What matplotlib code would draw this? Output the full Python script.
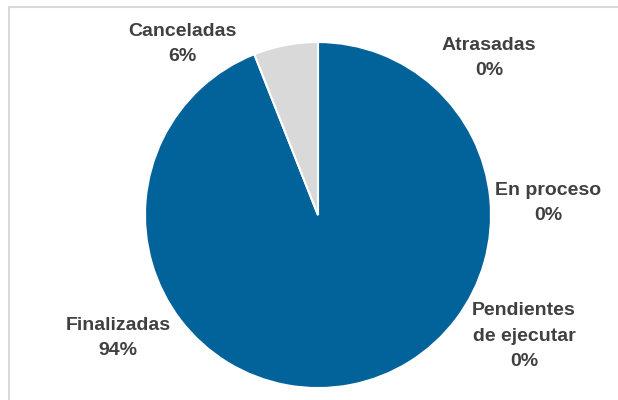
import matplotlib

matplotlib.use("Agg")
import matplotlib.pyplot as plt
from matplotlib.patches import Rectangle

# Data, clockwise from 12 o'clock
categories = ["Atrasadas", "En proceso", "Pendientes\nde ejecutar", "Finalizadas", "Canceladas"]
values = [0, 0, 0, 94, 6]
colors = ["#02639B", "#02639B", "#02639B", "#02639B", "#D9D9D9"]

# Manual label spots (data units, pie radius = 1), like the hand-placed Excel labels
label_pos = {
    "Atrasadas": (0.988, 0.908),
    "En proceso": (1.329, 0.069),
    "Pendientes\nde ejecutar": (1.191, -0.70),
    "Finalizadas": (-1.156, -0.711),
    "Canceladas": (-0.786, 0.988),
}

plt.rcParams["font.family"] = ["Liberation Sans Narrow", "Liberation Sans", "DejaVu Sans"]

fig = plt.figure(figsize=(6.18, 4.0), dpi=100)
ax = fig.add_axes([0, 0, 1, 1])

ax.pie(
    values,
    colors=colors,
    startangle=90,
    counterclock=False,
    radius=1.0,
    wedgeprops=dict(edgecolor="white", linewidth=1.5),
)
ax.set_xlim(-1.838, 1.734)
ax.set_ylim(-1.069, 1.243)
ax.set_aspect("equal")
ax.axis("off")

total = sum(values)
for cat, val in zip(categories, values):
    x, y = label_pos[cat]
    ax.text(
        x, y, f"{cat}\n{round(100 * val / total)}%",
        ha="center", va="center", fontsize=14, fontweight="bold",
        color="#404040", linespacing=1.65,
    )

# chart area border (right/bottom edges fall outside the crop)
fig.patches.append(
    Rectangle((9 / 618, -0.1), 1.2, 1.1 - 6.5 / 400, transform=fig.transFigure,
              fill=False, edgecolor="#D9D9D9", linewidth=1.5)
)

fig.savefig("out.png", dpi=100)
